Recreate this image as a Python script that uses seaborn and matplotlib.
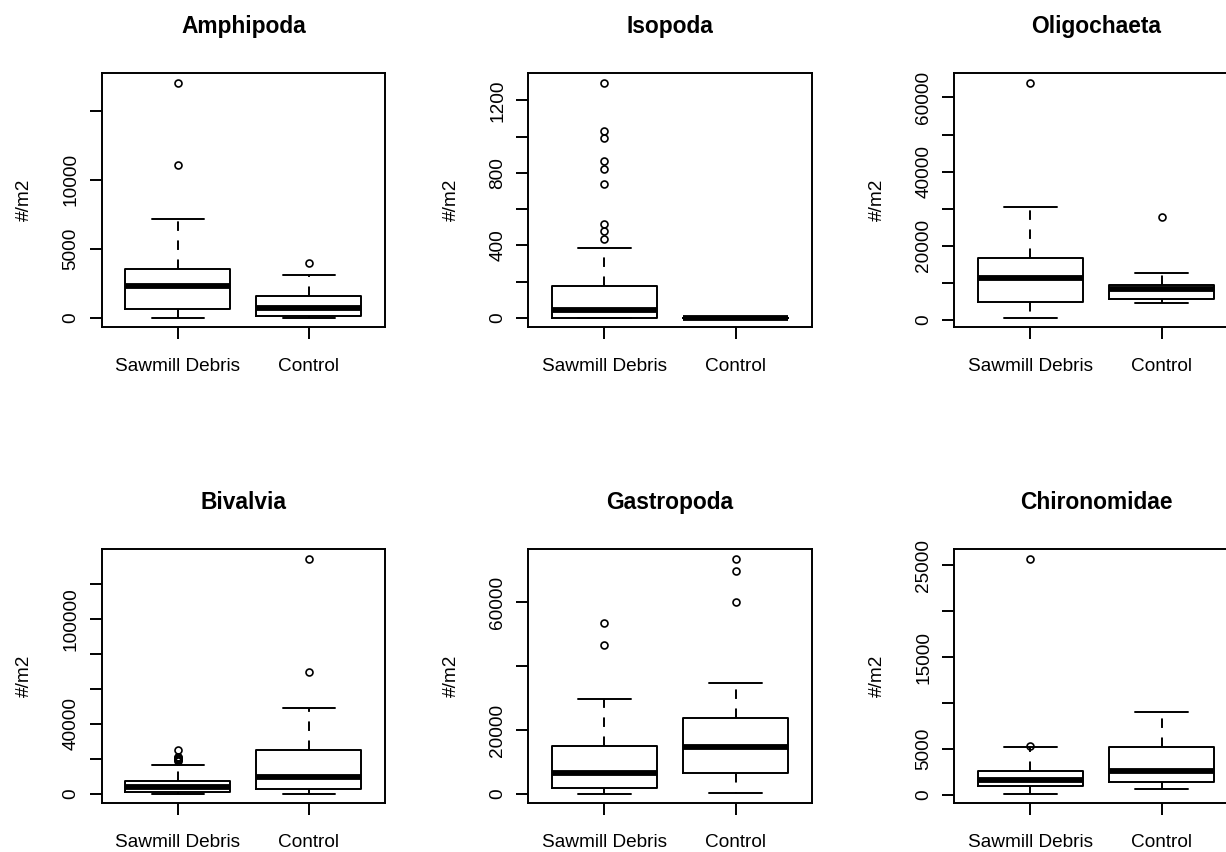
import numpy as np
import matplotlib
matplotlib.use('Agg')
import matplotlib.pyplot as plt
import seaborn as sns

# Values (#/m2)
taxa = ['Amphipoda', 'Isopoda', 'Oligochaeta', 'Bivalvia', 'Gastropoda', 'Chironomidae']
groups = ['Sawmill Debris', 'Control']

# [whisker low, q1, median, q3, whisker high]
sawmill_stats = [
    [0, 670, 2330, 3560, 7150],
    [0, 2, 46, 174, 386],
    [540, 4940, 11410, 16620, 30370],
    [0, 920, 3790, 7640, 16650],
    [0, 1980, 6570, 15020, 29630],
    [73, 910, 1635, 2620, 5160],
]
control_stats = [
    [0, 170, 700, 1565, 3080],
    [0, 0, 0, 0, 0],
    [4490, 5660, 8360, 9430, 12760],
    [0, 2870, 9570, 25260, 49180],
    [310, 6470, 14810, 23680, 34640],
    [654, 1345, 2540, 5160, 8975],
]
sawmill_outliers = [
    [11050, 17020],
    [436, 478, 520, 736, 822, 864, 994, 1031, 1297],
    [63970],
    [18900, 19300, 19700, 20100, 20500, 20900, 21300, 25260],
    [46530, 53310],
    [5340, 25730],
]
control_outliers = [
    [3950],
    [],
    [27670],
    [69470, 134550],
    [59890, 69700, 73560],
    [],
]

y_ticks = [
    [0, 5000, 10000, 15000],
    [0, 200, 400, 600, 800, 1000, 1200],
    [0, 10000, 20000, 30000, 40000, 50000, 60000],
    [0, 20000, 40000, 60000, 80000, 100000, 120000],
    [0, 20000, 40000, 60000],
    [0, 5000, 10000, 15000, 20000, 25000],
]
y_labels = [
    ['0', '5000', '10000', ''],
    ['0', '', '400', '', '800', '', '1200'],
    ['0', '', '20000', '', '40000', '', '60000'],
    ['0', '', '40000', '', '', '100000', ''],
    ['0', '20000', '', '60000'],
    ['0', '5000', '', '15000', '', '25000'],
]

sns.set_style('white')
plt.rcParams['font.family'] = ['Liberation Sans', 'DejaVu Sans']
plt.rcParams['text.color'] = 'black'

W, H = 1226, 852
fig = plt.figure(figsize=(W / 100, H / 100), dpi=100)

col_left = [101.7, 528.3, 954.3]
row_top = [73.3, 549.3]
ax_w, ax_h = 283.3, 254
LW = 1.4

for i, taxon in enumerate(taxa):
    r, c = divmod(i, 3)
    ax = fig.add_axes([col_left[c] / W, (H - row_top[r] - ax_h) / H, ax_w / W, ax_h / H])

    stats = []
    all_vals = []
    for s, fl, g in zip([sawmill_stats[i], control_stats[i]],
                        [sawmill_outliers[i], control_outliers[i]], groups):
        lo, q1, med, q3, hi = s
        stats.append(dict(whislo=lo, q1=q1, med=med, q3=q3, whishi=hi,
                          fliers=np.array(fl, dtype=float), label=g))
        all_vals += s + fl

    ax.bxp(stats, positions=[1, 2], widths=0.8, capwidths=0.4, showfliers=True,
           boxprops=dict(color='black', linewidth=LW),
           medianprops=dict(color='black', linewidth=3 * LW, solid_capstyle='butt'),
           whiskerprops=dict(color='black', linewidth=LW, linestyle=(0, (4.9, 4.9))),
           capprops=dict(color='black', linewidth=LW),
           flierprops=dict(marker='o', markerfacecolor='none', markeredgecolor='black',
                           markersize=5.0, markeredgewidth=1.2, linestyle='none'))

    # R style axis extension: 4% beyond data range
    lo, hi = min(all_vals), max(all_vals)
    pad = 0.04 * (hi - lo)
    ax.set_ylim(lo - pad, hi + pad)
    ax.set_xlim(0.42, 2.58)

    ax.set_yticks(y_ticks[i])
    ax.set_yticklabels(y_labels[i], rotation=90, va='center')
    ax.set_xticks([1, 2])
    ax.set_xticklabels(groups)
    ax.tick_params(axis='both', direction='out', length=8.9, width=LW, colors='black',
                   labelsize=13.7, left=True, bottom=True)
    ax.tick_params(axis='y', pad=7)
    ax.tick_params(axis='x', pad=13)
    for sp in ax.spines.values():
        sp.set_color('black')
        sp.set_linewidth(LW)

    ax.text(0.5, 1 + 40.5 / ax_h, taxon, transform=ax.transAxes, ha='center',
            va='baseline', fontsize=16.4, fontweight='bold')
    ax.text(-77 / ax_w, 0.5, '#/m2', transform=ax.transAxes, rotation=90,
            ha='center', va='center', fontsize=13.7)

fig.savefig('out.png', dpi=100)
